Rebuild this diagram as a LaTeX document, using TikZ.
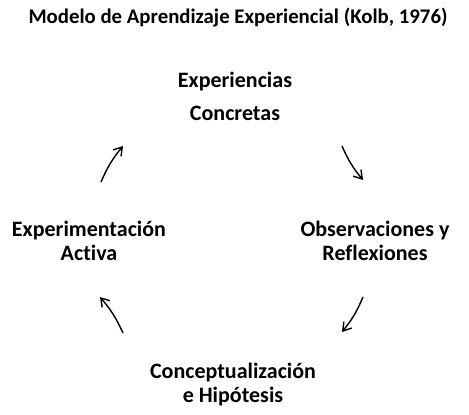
\documentclass[tikz,border=0pt]{standalone}
\usepackage{fontspec}
\setmainfont{Carlito}[Ligatures=NoCommon]
\usetikzlibrary{arrows.meta,positioning}

\begin{document}
\begin{tikzpicture}[
  x=1pt, y=-1pt,
  stage/.style={align=center, font=\bfseries\fontsize{22}{24}\selectfont, inner sep=0pt},
  ttl/.style={font=\bfseries\fontsize{20.8}{24}\selectfont, inner sep=0pt},
  arr/.style={line width=1.4pt, -{Straight Barb[length=2.8mm, width=3.6mm, line width=1.4pt]}}
]
\useasboundingbox (0,0) rectangle (469,415);
\node[ttl] (title) at (238,18) {Modelo de Aprendizaje Experiencial (Kolb, 1976)};
\node[stage] (ce) at (235,96) {Experiencias\\[9pt]Concretas};
\node[stage] (or) at (375,241) {Observaciones y\\Reflexiones};
\node[stage] (ch) at (233,385) {Conceptualización\\e Hipótesis};
\node[stage] (ea) at (89,241) {Experimentación\\Activa};
% arrows of the cycle
\coordinate (a1) at (101,182); \coordinate (b1) at (123,146);
\coordinate (a2) at (342,146); \coordinate (b2) at (363,180);
\coordinate (a3) at (363,297); \coordinate (b3) at (342,332);
\coordinate (a4) at (123,333); \coordinate (b4) at (100,297);
\draw[arr] (a1) to[bend left=8] (b1);
\draw[arr] (a2) to[bend right=8] (b2);
\draw[arr] (a3) to[bend left=8] (b3);
\draw[arr] (a4) to[bend right=8] (b4);
\end{tikzpicture}
\end{document}
